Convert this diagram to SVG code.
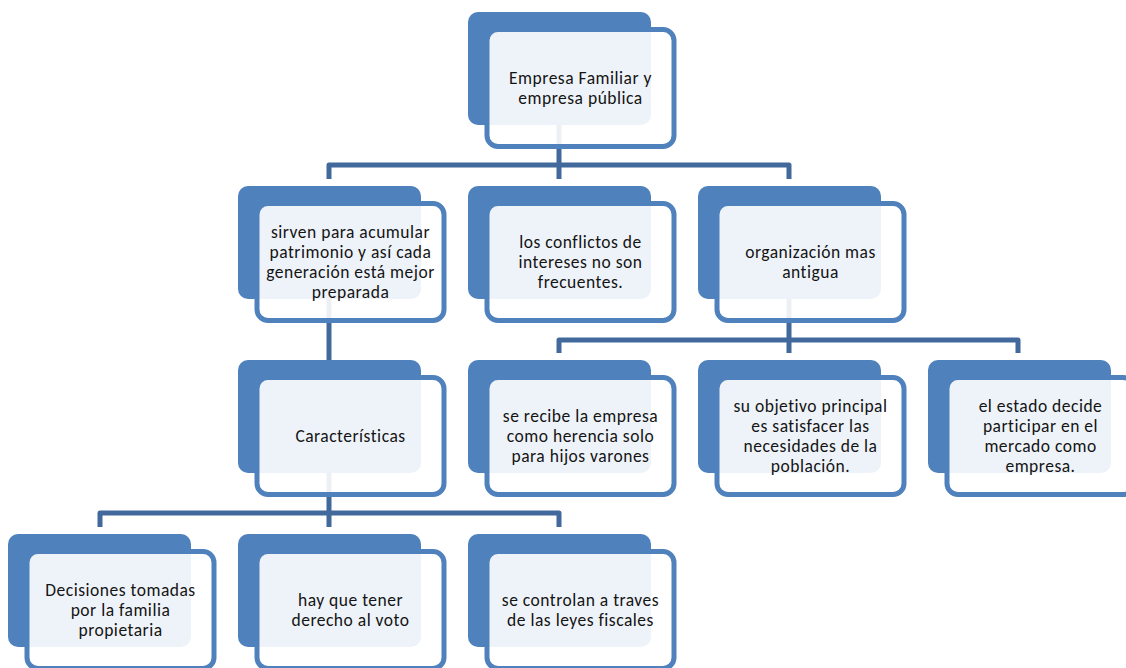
<svg xmlns="http://www.w3.org/2000/svg" width="1126" height="668" viewBox="0 0 1126 668">
<style>
.bk{fill:#4F81BD}
.fr{fill:#FFFFFF;fill-opacity:0.9;stroke:#4F81BD;stroke-width:5}
.cn{fill:none;stroke:#41699C;stroke-width:5;stroke-linejoin:round}
text{font-family:Carlito,Lato,"Liberation Sans",sans-serif;font-size:17.5px;letter-spacing:0.5px;fill:#141414;text-anchor:middle}
</style>
<rect width="1126" height="668" fill="#FFFFFF"/>
<g id="connectors">
<path class="cn" d="M559 125V179M329 179V165H789V179"/>
<path class="cn" d="M329 298V360"/>
<path class="cn" d="M789 298V353M559 353V340H1018V353"/>
<path class="cn" d="M329 473V527M100 527V513H559V527"/>
</g>
<g id="n1">
<rect class="bk" x="468" y="12" width="183" height="113" rx="10"/>
<rect class="fr" x="487" y="29.5" width="187" height="117" rx="11"/>
<text x="580.5" y="83.5">Empresa Familiar y</text>
<text x="580.5" y="103.5">empresa pública</text>
</g>
<g id="n2">
<rect class="bk" x="238" y="186" width="183" height="113" rx="10"/>
<rect class="fr" x="257" y="203.5" width="187" height="117" rx="11"/>
<text x="350.5" y="237.5">sirven para acumular</text>
<text x="350.5" y="257.5">patrimonio y así cada</text>
<text x="350.5" y="277.5">generación está mejor</text>
<text x="350.5" y="297.5">preparada</text>
</g>
<g id="n3">
<rect class="bk" x="468" y="186" width="183" height="113" rx="10"/>
<rect class="fr" x="487" y="203.5" width="187" height="117" rx="11"/>
<text x="580.5" y="247.5">los conflictos de</text>
<text x="580.5" y="267.5">intereses no son</text>
<text x="580.5" y="287.5">frecuentes.</text>
</g>
<g id="n4">
<rect class="bk" x="698" y="186" width="183" height="113" rx="10"/>
<rect class="fr" x="717" y="203.5" width="187" height="117" rx="11"/>
<text x="810.5" y="257.5">organización mas</text>
<text x="810.5" y="277.5">antigua</text>
</g>
<g id="n5">
<rect class="bk" x="238" y="360" width="183" height="113" rx="10"/>
<rect class="fr" x="257" y="377.5" width="187" height="117" rx="11"/>
<text x="350.5" y="441.5">Características</text>
</g>
<g id="n6">
<rect class="bk" x="468" y="360" width="183" height="113" rx="10"/>
<rect class="fr" x="487" y="377.5" width="187" height="117" rx="11"/>
<text x="580.5" y="421.5">se recibe la empresa</text>
<text x="580.5" y="441.5">como herencia solo</text>
<text x="580.5" y="461.5">para hijos varones</text>
</g>
<g id="n7">
<rect class="bk" x="698" y="360" width="183" height="113" rx="10"/>
<rect class="fr" x="717" y="377.5" width="187" height="117" rx="11"/>
<text x="810.5" y="411.5">su objetivo principal</text>
<text x="810.5" y="431.5">es satisfacer las</text>
<text x="810.5" y="451.5">necesidades de la</text>
<text x="810.5" y="471.5">población.</text>
</g>
<g id="n8">
<rect class="bk" x="928" y="360" width="183" height="113" rx="10"/>
<rect class="fr" x="947" y="377.5" width="187" height="117" rx="11"/>
<text x="1040.5" y="411.5">el estado decide</text>
<text x="1040.5" y="431.5">participar en el</text>
<text x="1040.5" y="451.5">mercado como</text>
<text x="1040.5" y="471.5">empresa.</text>
</g>
<g id="n9">
<rect class="bk" x="8" y="534" width="183" height="113" rx="10"/>
<rect class="fr" x="27" y="551.5" width="187" height="117" rx="11"/>
<text x="120.5" y="595.5">Decisiones tomadas</text>
<text x="120.5" y="615.5">por la familia</text>
<text x="120.5" y="635.5">propietaria</text>
</g>
<g id="n10">
<rect class="bk" x="238" y="534" width="183" height="113" rx="10"/>
<rect class="fr" x="257" y="551.5" width="187" height="117" rx="11"/>
<text x="350.5" y="605.5">hay que tener</text>
<text x="350.5" y="625.5">derecho al voto</text>
</g>
<g id="n11">
<rect class="bk" x="468" y="534" width="183" height="113" rx="10"/>
<rect class="fr" x="487" y="551.5" width="187" height="117" rx="11"/>
<text x="580.5" y="605.5">se controlan a traves</text>
<text x="580.5" y="625.5">de las leyes fiscales</text>
</g>
</svg>
